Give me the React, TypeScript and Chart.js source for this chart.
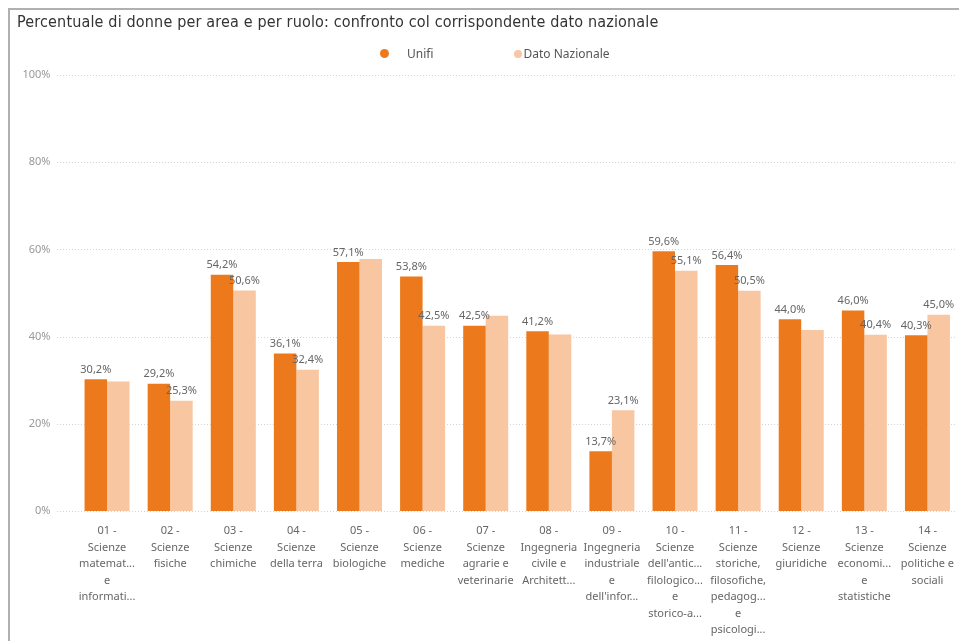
import React, { useEffect, useRef } from "react";
import { Chart, registerables } from "chart.js";

Chart.register(...registerables);

const TITLE = "Percentuale di donne per area e per ruolo: confronto col corrispondente dato nazionale";
const SERIES_NAMES = ["Unifi", "Dato Nazionale"];
const COLORS = ["#EC7A1C", "#F8C6A0"];

const categories: string[][] = [
  ["01 -", "Scienze", "matemat...", "e", "informati..."],
  ["02 -", "Scienze", "fisiche"],
  ["03 -", "Scienze", "chimiche"],
  ["04 -", "Scienze", "della terra"],
  ["05 -", "Scienze", "biologiche"],
  ["06 -", "Scienze", "mediche"],
  ["07 -", "Scienze", "agrarie e", "veterinarie"],
  ["08 -", "Ingegneria", "civile e", "Architett..."],
  ["09 -", "Ingegneria", "industriale", "e", "dell'infor..."],
  ["10 -", "Scienze", "dell'antic...", "filologico...", "e", "storico-a..."],
  ["11 -", "Scienze", "storiche,", "filosofiche,", "pedagog...", "e", "psicologi..."],
  ["12 -", "Scienze", "giuridiche"],
  ["13 -", "Scienze", "economi...", "e", "statistiche"],
  ["14 -", "Scienze", "politiche e", "sociali"],
];

const unifi = [30.2, 29.2, 54.2, 36.1, 57.1, 53.8, 42.5, 41.2, 13.7, 59.6, 56.4, 44.0, 46.0, 40.3];
const nazionale = [29.7, 25.3, 50.6, 32.4, 57.8, 42.5, 44.8, 40.5, 23.1, 55.1, 50.5, 41.5, 40.4, 45.0];

const yTicks = [0, 20, 40, 60, 80, 100];

const fmt = (v: number) => v.toFixed(1).replace(".", ",") + "%";

const FONT = "'Noto Sans', sans-serif";

const gridPlugin = {
  id: "dottedGrid",
  beforeDatasetsDraw(chart: any) {
    const { ctx, scales } = chart;
    const y = scales.y;
    ctx.save();
    ctx.strokeStyle = "#d4d4d4";
    ctx.lineWidth = 1;
    ctx.setLineDash([1, 2]);
    yTicks.forEach((t) => {
      const py = Math.round(y.getPixelForValue(t)) + 0.5;
      ctx.beginPath();
      ctx.moveTo(57, py);
      ctx.lineTo(chart.chartArea.right - 4, py);
      ctx.stroke();
    });
    ctx.restore();
  },
};

const labelPlugin = {
  id: "barLabels",
  afterDatasetsDraw(chart: any) {
    const { ctx } = chart;
    ctx.save();
    ctx.font = "11px " + FONT;
    ctx.fillStyle = "#666666";
    ctx.textAlign = "center";
    ctx.textBaseline = "bottom";
    const h = 12;
    const placed: any[] = [];
    chart.data.datasets.forEach((ds: any, di: number) => {
      const meta = chart.getDatasetMeta(di);
      meta.data.forEach((el: any, i: number) => {
        const text = fmt(ds.data[i]);
        const w = ctx.measureText(text).width;
        const yb = el.y - 4;
        const rect = { x1: el.x - w / 2, x2: el.x + w / 2, y1: yb - h, y2: yb, i };
        const clash = placed.some(
          (r) => r.i === i && r.x1 < rect.x2 && rect.x1 < r.x2 && r.y1 < rect.y2 && rect.y1 < r.y2
        );
        if (clash) return;
        placed.push(rect);
        ctx.fillText(text, el.x, yb);
      });
    });
    ctx.restore();
  },
};

export default function App() {
  const ref = useRef<HTMLCanvasElement | null>(null);
  useEffect(() => {
    if (!ref.current) return;
    const chart = new Chart(ref.current, {
      type: "bar",
      data: {
        labels: categories,
        datasets: [
          { label: SERIES_NAMES[0], data: unifi, backgroundColor: COLORS[0] },
          { label: SERIES_NAMES[1], data: nazionale, backgroundColor: COLORS[1] },
        ],
      },
      options: {
        animation: false,
        responsive: false,
        layout: { padding: { top: 75, right: 0, left: 0, bottom: 0 } },
        datasets: { bar: { categoryPercentage: 0.713, barPercentage: 1.0 } } as any,
        plugins: { legend: { display: false }, title: { display: false }, tooltip: { enabled: false } },
        scales: {
          x: {
            grid: { display: false, drawTicks: false },
            border: { display: false },
            ticks: {
              color: "#666666",
              font: { family: FONT, size: 11, lineHeight: 1.5 },
              padding: 12,
              maxRotation: 0,
              autoSkip: false,
            },
            afterFit: (s: any) => {
              s.height = 130;
              s.paddingLeft = 0;
              s.paddingRight = 0;
            },
          },
          y: {
            min: 0,
            max: 100,
            grid: { display: false, drawTicks: false },
            border: { display: false },
            ticks: {
              stepSize: 20,
              color: "#999999",
              font: { family: FONT, size: 11 },
              padding: 25,
              callback: (v: any) => v + "%",
            },
            afterFit: (s: any) => {
              s.width = 75.5;
              s.paddingTop = 0;
              s.paddingBottom = 0;
            },
          },
        },
      },
      plugins: [gridPlugin, labelPlugin],
    });
    return () => chart.destroy();
  }, []);

  return (
    <div style={{ position: "absolute", left: 0, top: 0, width: 959, height: 641, background: "#fff", overflow: "hidden" }}>
      <div
        style={{
          position: "absolute",
          left: 8,
          top: 8,
          right: 0,
          bottom: 0,
          borderTop: "2px solid #b0b0b0",
          borderLeft: "2px solid #b0b0b0",
        }}
      />
      <canvas ref={ref} width={959} height={641} style={{ position: "absolute", left: 0, top: 0 }} />
      <div
        style={{
          position: "absolute",
          left: 17,
          top: 12,
          fontFamily: "'DejaVu Sans Condensed', sans-serif",
          fontSize: 16,
          letterSpacing: 0.16,
          color: "#333",
          whiteSpace: "nowrap",
        }}
      >
        {TITLE}
      </div>
      <div style={{ position: "absolute", left: 380, top: 44, fontFamily: FONT, fontSize: 12, color: "#555", whiteSpace: "nowrap" }}>
        <span style={{ display: "inline-block", width: 9, height: 9, borderRadius: "50%", background: COLORS[0], marginRight: 18, verticalAlign: "middle" }} />
        <span style={{ verticalAlign: "middle" }}>{SERIES_NAMES[0]}</span>
        <span style={{ display: "inline-block", width: 8, height: 8, borderRadius: "50%", background: COLORS[1], marginLeft: 80, marginRight: 2, verticalAlign: "middle" }} />
        <span style={{ verticalAlign: "middle" }}>{SERIES_NAMES[1]}</span>
      </div>
    </div>
  );
}
